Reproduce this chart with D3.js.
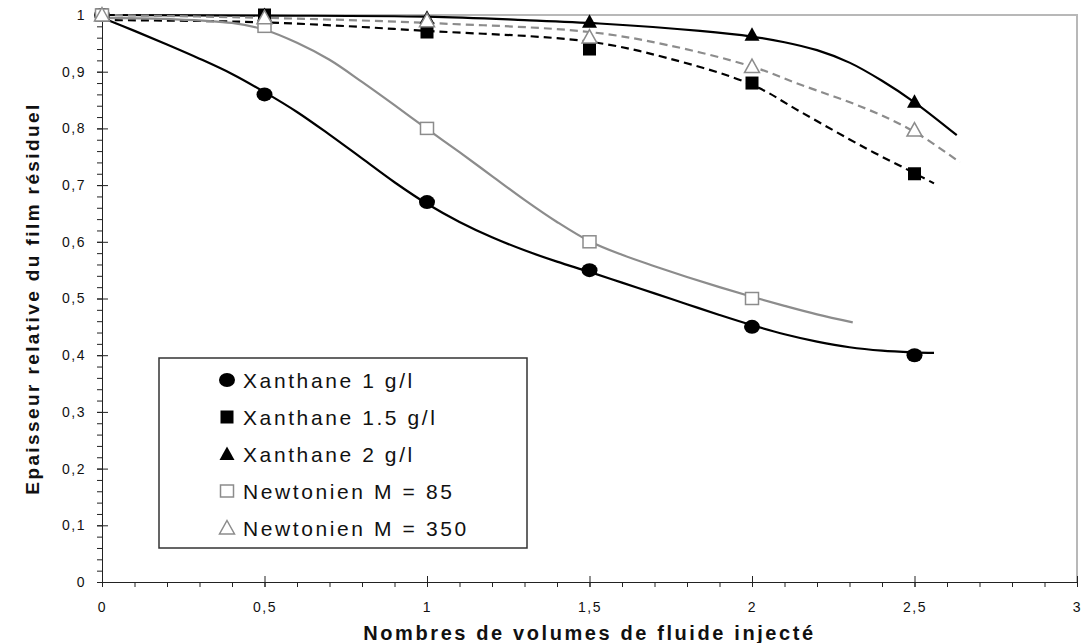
<!DOCTYPE html>
<html>
<head>
<meta charset="utf-8">
<script src="https://cdn.jsdelivr.net/npm/d3@7"></script>
<style>
  html, body { margin: 0; padding: 0; background: #fff; }
  svg { display: block; font-family: Arial, "Liberation Sans", sans-serif; }
</style>
</head>
<body>
<svg id="chart" width="1082" height="643"></svg>
<script>
// Measured points (volumes injected vs relative residual film thickness)
const volumes = [0, 0.5, 1, 1.5, 2, 2.5];
const xanthane1 = [1.0, 0.86, 0.67, 0.55, 0.45, 0.40];
const xanthane15 = [1.0, 1.0, 0.97, 0.94, 0.88, 0.72];
const xanthane2 = [1.0, 1.0, 0.995, 0.988, 0.965, 0.847];
const volumesNewt85 = [0, 0.5, 1, 1.5, 2];
const newtonien85 = [1.0, 0.98, 0.80, 0.60, 0.50];
const newtonien350 = [1.0, 0.995, 0.99, 0.961, 0.909, 0.797];

// Fitted trend curves, sampled as [volume, thickness] pairs
const trendXanthane1 = [[0, 0.995], [0.1, 0.972], [0.2, 0.948], [0.3, 0.923], [0.4, 0.896], [0.5, 0.864],
  [0.6, 0.829], [0.7, 0.789], [0.8, 0.747], [0.9, 0.705], [1.0, 0.667], [1.1, 0.635], [1.2, 0.608],
  [1.3, 0.585], [1.4, 0.565], [1.5, 0.547], [1.6, 0.528], [1.7, 0.509], [1.8, 0.490], [1.9, 0.471],
  [2.0, 0.453], [2.1, 0.437], [2.2, 0.424], [2.3, 0.414], [2.4, 0.408], [2.5, 0.405], [2.56, 0.404]];
const trendXanthane15 = [[0, 0.991], [0.5, 0.987], [1.0, 0.972], [1.5, 0.953], [1.74, 0.924], [2.0, 0.877],
  [2.15, 0.829], [2.35, 0.765], [2.5, 0.721], [2.56, 0.703]];
const trendXanthane2 = [[0, 1.0], [0.5, 0.999], [1.0, 0.997], [1.3, 0.991], [1.53, 0.985], [1.84, 0.972],
  [2.0, 0.962], [2.1, 0.952], [2.2, 0.938], [2.3, 0.916], [2.4, 0.884], [2.5, 0.846], [2.63, 0.788]];
const trendNewt85 = [[0, 0.995], [0.2, 0.993], [0.4, 0.986], [0.5, 0.974], [0.6, 0.951], [0.7, 0.921],
  [0.8, 0.882], [0.9, 0.841], [1.0, 0.799], [1.1, 0.758], [1.2, 0.716], [1.3, 0.674], [1.4, 0.635],
  [1.5, 0.601], [1.6, 0.577], [1.7, 0.557], [1.8, 0.538], [1.9, 0.520], [2.0, 0.503], [2.1, 0.487],
  [2.2, 0.472], [2.31, 0.458]];
const trendNewt350 = [[0, 1.0], [0.5, 0.995], [1.0, 0.986], [1.5, 0.970], [1.74, 0.947], [2.0, 0.909],
  [2.15, 0.877], [2.35, 0.835], [2.5, 0.794], [2.64, 0.740]];

const seriesNames = ["Xanthane 1 g/l", "Xanthane 1.5 g/l", "Xanthane 2 g/l", "Newtonien M = 85", "Newtonien M = 350"];

const xTicks = [0, 0.5, 1, 1.5, 2, 2.5, 3];
const xTickLabels = ["0", "0,5", "1", "1,5", "2", "2,5", "3"];
const yTicks = [0, 0.1, 0.2, 0.3, 0.4, 0.5, 0.6, 0.7, 0.8, 0.9, 1];
const yTickLabels = ["0", "0,1", "0,2", "0,3", "0,4", "0,5", "0,6", "0,7", "0,8", "0,9", "1"];

const xTitle = "Nombres de volumes de fluide injecté";
const yTitle = "Epaisseur relative du film résiduel";

const svg = d3.select("#chart");
const plotLeft = 102, plotRight = 1077, plotTop = 15, plotBottom = 582;

const x = d3.scaleLinear().domain([0, 3]).range([plotLeft, plotRight]);
const y = d3.scaleLinear().domain([0, 1]).range([plotBottom, plotTop]);

// plot frame: grey top and right edges
svg.append("path")
  .attr("d", `M${plotLeft},${plotTop}H${plotRight}V${plotBottom}`)
  .attr("fill", "none").attr("stroke", "#b8b8b8").attr("stroke-width", 2);

// y axis with minor ticks every 0.02
const yMinor = d3.range(0, 51).map(i => i / 50);
svg.append("g").attr("transform", `translate(${plotLeft},0)`)
  .call(d3.axisLeft(y).tickValues(yMinor).tickSize(5).tickFormat(""))
  .call(g => g.select(".domain").remove())
  .call(g => g.selectAll("line").attr("stroke", "#222"));
const yAxis = svg.append("g").attr("transform", `translate(${plotLeft},0)`)
  .call(d3.axisLeft(y).tickValues(yTicks).tickSizeOuter(0).tickSize(5).tickPadding(11)
    .tickFormat((d, i) => yTickLabels[i]));
yAxis.select(".domain").attr("stroke", "#222");
yAxis.selectAll(".tick line").attr("x2", 6).attr("x1", -5).attr("stroke", "#222");
yAxis.selectAll("text").attr("font-size", 14).attr("fill", "#111")
  .style("letter-spacing", "1.5px").attr("font-family", "Arial, 'Liberation Sans', sans-serif");

// x axis with minor ticks every 0.1
const xMinor = d3.range(0, 31).map(i => i / 10);
svg.append("g").attr("transform", `translate(0,${plotBottom})`)
  .call(d3.axisBottom(x).tickValues(xMinor).tickSize(5).tickFormat(""))
  .call(g => g.select(".domain").remove())
  .call(g => g.selectAll("line").attr("stroke", "#222"));
const xAxis = svg.append("g").attr("transform", `translate(0,${plotBottom})`)
  .call(d3.axisBottom(x).tickValues(xTicks).tickSizeOuter(0).tickSize(5).tickPadding(15)
    .tickFormat((d, i) => xTickLabels[i]));
xAxis.select(".domain").attr("stroke", "#222");
xAxis.selectAll(".tick line").attr("y1", -6).attr("y2", 5).attr("stroke", "#222");
xAxis.selectAll("text").attr("font-size", 14).attr("fill", "#111")
  .style("letter-spacing", "1.5px").attr("font-family", "Arial, 'Liberation Sans', sans-serif");

// axis titles
svg.append("text")
  .attr("x", (plotLeft + plotRight) / 2).attr("y", 640)
  .attr("text-anchor", "middle").attr("font-size", 20).attr("font-weight", "bold")
  .style("letter-spacing", "2.6px").attr("fill", "#111")
  .text(xTitle);
svg.append("text")
  .attr("transform", `translate(39,${(plotTop + plotBottom) / 2}) rotate(-90)`)
  .attr("text-anchor", "middle").attr("font-size", 19).attr("font-weight", "bold")
  .style("letter-spacing", "2.4px").attr("fill", "#111")
  .text(yTitle);

// trend curves
const line = d3.line().x(d => x(d[0])).y(d => y(d[1])).curve(d3.curveCatmullRom.alpha(0.5));
const trends = [
  { data: trendXanthane1, color: "#000", dash: null },
  { data: trendXanthane15, color: "#000", dash: "8,5" },
  { data: trendXanthane2, color: "#000", dash: null },
  { data: trendNewt85, color: "#8c8c8c", dash: null },
  { data: trendNewt350, color: "#8c8c8c", dash: "8,5" }
];
trends.forEach(t => {
  svg.append("path").datum(t.data)
    .attr("d", line)
    .attr("fill", "none")
    .attr("stroke", t.color)
    .attr("stroke-width", 2.2)
    .attr("stroke-dasharray", t.dash);
});

// marker shapes
function drawMarker(g, kind, cx, cy) {
  if (kind === "circle") {
    g.append("ellipse").attr("cx", cx).attr("cy", cy).attr("rx", 8).attr("ry", 7).attr("fill", "#000");
  } else if (kind === "square") {
    g.append("rect").attr("x", cx - 6.5).attr("y", cy - 6.5).attr("width", 13).attr("height", 13).attr("fill", "#000");
  } else if (kind === "triangle") {
    g.append("path").attr("d", `M${cx},${cy - 7.5}L${cx + 7.5},${cy + 6}L${cx - 7.5},${cy + 6}Z`).attr("fill", "#000");
  } else if (kind === "osquare") {
    g.append("rect").attr("x", cx - 6.5).attr("y", cy - 6).attr("width", 13).attr("height", 12)
      .attr("fill", "#fff").attr("stroke", "#8c8c8c").attr("stroke-width", 1.5);
  } else if (kind === "otriangle") {
    g.append("path").attr("d", `M${cx},${cy - 7.5}L${cx + 7.5},${cy + 6}L${cx - 7.5},${cy + 6}Z`)
      .attr("fill", "#fff").attr("stroke", "#8c8c8c").attr("stroke-width", 1.5);
  }
}

const points = [
  { xs: volumes, ys: xanthane1, kind: "circle" },
  { xs: volumes, ys: xanthane15, kind: "square" },
  { xs: volumes, ys: xanthane2, kind: "triangle" },
  { xs: volumesNewt85, ys: newtonien85, kind: "osquare" },
  { xs: volumes, ys: newtonien350, kind: "otriangle" }
];
const markerG = svg.append("g");
points.forEach(p => {
  p.xs.forEach((v, i) => drawMarker(markerG, p.kind, x(v), y(p.ys[i])));
});

// legend
const legend = svg.append("g");
legend.append("rect").attr("x", 159).attr("y", 358).attr("width", 368).attr("height", 190)
  .attr("fill", "#fff").attr("stroke", "#333").attr("stroke-width", 1.5);
const legendRowY = d3.scaleLinear().domain([0, 4]).range([380, 528]);
seriesNames.forEach((name, i) => {
  const cy = legendRowY(i);
  drawMarker(legend, points[i].kind, 227, cy);
  legend.append("text").attr("x", 243).attr("y", cy + 7.5)
    .attr("font-size", 21).style("letter-spacing", "2.6px").attr("fill", "#111")
    .text(name);
});
</script>
</body>
</html>
